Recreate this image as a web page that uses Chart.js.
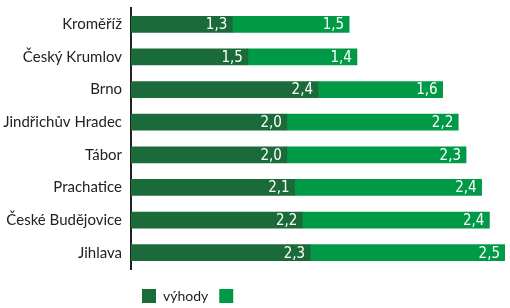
<!DOCTYPE html>
<html>
<head>
<meta charset="utf-8">
<script src="https://cdn.jsdelivr.net/npm/chart.js@4"></script>
<style>
  html, body { margin: 0; padding: 0; background: #fff; }
  #wrap { width: 510px; height: 308px; }
</style>
</head>
<body>
<div id="wrap"><canvas id="myChart"></canvas></div>
<script>
const cities = ['Kroměříž', 'Český Krumlov', 'Brno', 'Jindřichův Hradec', 'Tábor', 'Prachatice', 'České Budějovice', 'Jihlava'];
const vyhody = [1.3, 1.5, 2.4, 2.0, 2.0, 2.1, 2.2, 2.3];
const druhe = [1.5, 1.4, 1.6, 2.2, 2.3, 2.4, 2.4, 2.5];
const seriesNames = ['výhody', ''];

const DARK = '#1b6b3a';
const LIGHT = '#009a47';

// white numbers at the right end of every segment
const valueLabels = {
    id: 'valueLabels',
    afterDatasetsDraw(chart) {
        const c = chart.ctx;
        c.save();
        c.fillStyle = '#fff';
        c.font = '15px "Liberation Sans Narrow", "DejaVu Sans Condensed", sans-serif';
        c.textAlign = 'right';
        c.textBaseline = 'middle';
        chart.data.datasets.forEach((ds, i) => {
            chart.getDatasetMeta(i).data.forEach((bar, j) => {
                const txt = ds.data[j].toFixed(1).replace('.', ',');
                c.fillText(txt, bar.x - 5, bar.y + 1);
            });
        });
        c.restore();
    }
};

const ctx = document.getElementById('myChart');
const myChart = new Chart(ctx, {
    type: 'bar',
    data: {
        labels: cities,
        datasets: [
            { label: seriesNames[0], data: vyhody, backgroundColor: DARK, barThickness: 16 },
            { label: seriesNames[1], data: druhe, backgroundColor: LIGHT, barThickness: 16 }
        ]
    },
    options: {
        indexAxis: 'y',
        responsive: true,
        maintainAspectRatio: false,
        animation: false,
        layout: { padding: { left: 0, right: 5, top: 8, bottom: -5 } },
        scales: {
            x: {
                stacked: true, min: 0, max: 4.8,
                grid: { display: false },
                border: { display: false },
                ticks: { display: false },
                afterFit(scale) { scale.height = 9; }
            },
            y: {
                stacked: true,
                grid: { display: false, drawTicks: false },
                border: { display: true, color: '#222', width: 2 },
                ticks: { color: '#222', padding: 9, font: { family: 'Lato', size: 15 } },
                afterFit(scale) {
                    scale.width = 131;
                    scale.paddingTop = 0;
                    scale.paddingBottom = 0;
                }
            }
        },
        plugins: {
            legend: {
                position: 'bottom',
                align: 'start',
                fullSize: false,
                labels: {
                    boxWidth: 14,
                    boxHeight: 14,
                    padding: 11,
                    color: '#222',
                    font: { family: 'Lato', size: 14 }
                }
            },
            tooltip: { enabled: false }
        }
    },
    plugins: [valueLabels]
});
</script>
</body>
</html>
